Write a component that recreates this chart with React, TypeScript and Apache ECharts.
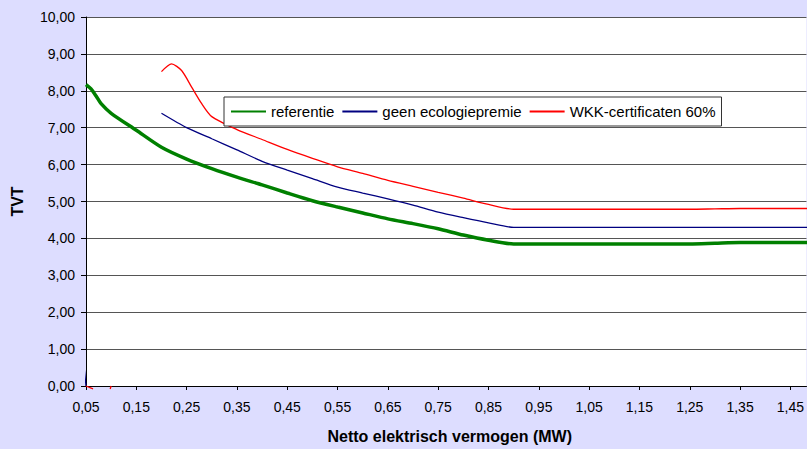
import React, { useEffect, useRef } from "react";
import * as echarts from "echarts";

// X values (MW) and TVT values per series; null marks a gap in the line
const xReferentie = [0.05, 0.06, 0.07, 0.08, 0.10, 0.15, 0.20, 0.25, 0.30, 0.35, 0.40, 0.45, 0.50, 0.55, 0.60, 0.65, 0.70, 0.75, 0.80, 0.85, 0.90, 0.95, 1.00, 1.05, 1.10, 1.15, 1.20, 1.25, 1.30, 1.35, 1.40, 1.45, 1.50];
const referentie = [8.17, 8.05, 7.86, 7.65, 7.39, 6.93, 6.47, 6.15, 5.89, 5.66, 5.45, 5.23, 5.02, 4.85, 4.69, 4.53, 4.40, 4.26, 4.09, 3.95, 3.85, 3.85, 3.85, 3.85, 3.85, 3.85, 3.85, 3.85, 3.87, 3.89, 3.89, 3.89, 3.89];

const xGeenEco = [0.044, 0.05, 0.12, 0.20, 0.25, 0.30, 0.35, 0.40, 0.45, 0.50, 0.55, 0.60, 0.65, 0.70, 0.75, 0.80, 0.85, 0.90, 0.95, 1.00, 1.05, 1.10, 1.15, 1.20, 1.25, 1.30, 1.35, 1.40, 1.45, 1.50];
const geenEcologiepremie = [0.8, 0, null, 7.39, 7.00, 6.70, 6.40, 6.09, 5.85, 5.62, 5.39, 5.23, 5.07, 4.90, 4.71, 4.56, 4.42, 4.30, 4.30, 4.30, 4.30, 4.30, 4.30, 4.30, 4.30, 4.30, 4.30, 4.30, 4.30, 4.30];

const xWkk = [0.05, 0.064, 0.08, 0.098, 0.10, 0.15, 0.20, 0.22, 0.24, 0.26, 0.28, 0.30, 0.35, 0.40, 0.45, 0.50, 0.55, 0.60, 0.65, 0.70, 0.75, 0.80, 0.85, 0.90, 0.95, 1.00, 1.05, 1.10, 1.15, 1.20, 1.25, 1.30, 1.35, 1.40, 1.45, 1.50];
const wkkCertificaten = [0, -0.08, null, -0.08, 0, null, 8.52, 8.73, 8.55, 8.10, 7.65, 7.30, 6.95, 6.68, 6.41, 6.17, 5.94, 5.76, 5.57, 5.41, 5.25, 5.09, 4.92, 4.79, 4.79, 4.79, 4.79, 4.79, 4.79, 4.79, 4.79, 4.80, 4.81, 4.81, 4.81, 4.81];

const seriesNames = ["referentie", "geen ecologiepremie", "WKK-certificaten 60%"];
const xTitle = "Netto elektrisch vermogen (MW)";
const yTitle = "TVT";

const X_START = 0.05; // first category on the axis

const FONT = "'Liberation Sans', Arial, sans-serif";

function toPairs(xs: number[], ys: (number | null)[]) {
  return xs.map((x, i) => [+(x - X_START).toFixed(4), ys[i] === null ? "-" : ys[i]]);
}

const comma = (v: number) => v.toFixed(2).replace(".", ",");

export default function App() {
  const ref = useRef<HTMLDivElement>(null);
  useEffect(() => {
    if (!ref.current) return;
    const chart = echarts.init(ref.current, undefined, { renderer: "svg" });
    chart.setOption({
      animation: false,
      backgroundColor: "#ddddff",
      textStyle: { fontFamily: FONT },
      grid: { left: 86, right: 0, top: 17, bottom: 57, backgroundColor: "#ffffff", show: true, borderWidth: 0 },
      legend: {
        left: 224,
        top: 97,
        orient: "horizontal",
        backgroundColor: "#ffffff",
        borderColor: "#333333",
        borderWidth: 1,
        borderRadius: 0,
        padding: [7, 6, 7, 6],
        itemWidth: 35,
        itemHeight: 14,
        itemGap: 7,
        itemStyle: { opacity: 0 },
        textStyle: { fontFamily: FONT, fontSize: 15, color: "#000" },
        data: seriesNames,
      },
      xAxis: {
        type: "value",
        min: 0,
        max: 1.432,
        interval: 0.1,
        name: xTitle,
        nameLocation: "middle",
        nameGap: 42,
        nameTextStyle: { fontFamily: FONT, fontSize: 16, fontWeight: "bold", color: "#000", padding: [0, 0, 0, 7] },
        axisLine: { show: true, onZero: false, lineStyle: { color: "#000", width: 1 } },
        axisTick: { show: true, length: 4, lineStyle: { color: "#000" } },
        splitLine: { show: false },
        axisLabel: {
          showMaxLabel: false,
          margin: 14,
          fontSize: 14,
          color: "#000",
          fontFamily: FONT,
          formatter: (v: number) => comma(v + X_START),
        },
      },
      yAxis: {
        type: "value",
        min: 0,
        max: 10,
        interval: 1,
        name: yTitle,
        nameLocation: "middle",
        nameGap: 61,
        nameTextStyle: { fontFamily: FONT, fontSize: 16, fontWeight: "bold", color: "#000" },
        axisLine: { show: true, lineStyle: { color: "#000", width: 1 } },
        axisTick: { show: true, length: 5, lineStyle: { color: "#000" } },
        splitLine: { show: true, lineStyle: { color: "#555", width: 1 } },
        axisLabel: { margin: 11, fontSize: 14, color: "#000", fontFamily: FONT, formatter: (v: number) => comma(v) },
      },
      series: [
        {
          name: seriesNames[0],
          type: "line",
          data: toPairs(xReferentie, referentie),
          smooth: 0.25,
          symbol: "none",
          clip: false,
          lineStyle: { color: "#008000", width: 3.5 },
          itemStyle: { color: "#008000" },
          z: 3,
        },
        {
          name: seriesNames[1],
          type: "line",
          data: toPairs(xGeenEco, geenEcologiepremie),
          smooth: 0.25,
          symbol: "none",
          clip: false,
          lineStyle: { color: "#000080", width: 1.3 },
          itemStyle: { color: "#000080" },
          z: 2,
        },
        {
          name: seriesNames[2],
          type: "line",
          data: toPairs(xWkk, wkkCertificaten),
          smooth: 0.25,
          symbol: "none",
          clip: false,
          lineStyle: { color: "#ff0000", width: 1.3 },
          itemStyle: { color: "#ff0000" },
          z: 2,
        },
      ],
    });
    return () => chart.dispose();
  }, []);
  return <div ref={ref} style={{ position: "fixed", left: 0, top: 0, width: 807, height: 449 }} />;
}
